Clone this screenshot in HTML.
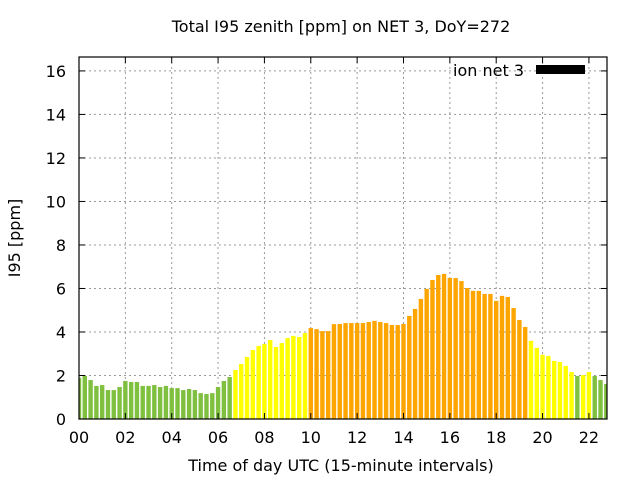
<!DOCTYPE html>
<html><head><meta charset="utf-8"><style>
html,body{margin:0;padding:0;background:#fff;}
svg{display:block;font-family:"DejaVu Sans","Liberation Sans",sans-serif;}
</style></head><body>
<svg id="chart" width="640" height="480" viewBox="0 0 640 480" xmlns="http://www.w3.org/2000/svg">
<rect width="640" height="480" fill="#fff"/>
<text x="341" y="32" font-size="16" text-anchor="middle">Total I95 zenith [ppm] on NET 3, DoY=272</text>
<text transform="translate(20,238) rotate(-90)" font-size="16" text-anchor="middle">I95 [ppm]</text>
<text x="341" y="471" font-size="16" text-anchor="middle">Time of day UTC (15-minute intervals)</text>
<g id="grid"></g>
<g id="bars"></g>
<g id="axes"></g>
<g>
<text x="524" y="76" font-size="16" text-anchor="end">ion net 3</text>
<rect x="536" y="65" width="49" height="9" fill="#000"/>
</g>
</svg>
<script>
const values = [1.90,1.98,1.79,1.52,1.56,1.33,1.33,1.47,1.75,1.70,1.70,1.52,1.52,1.56,1.47,1.52,1.42,1.42,1.33,1.38,1.33,1.19,1.15,1.19,1.47,1.75,1.93,2.25,2.53,2.85,3.17,3.36,3.45,3.63,3.31,3.49,3.72,3.82,3.77,3.95,4.18,4.13,4.04,4.04,4.36,4.37,4.41,4.41,4.41,4.41,4.46,4.51,4.46,4.41,4.32,4.32,4.37,4.74,5.06,5.52,5.98,6.39,6.62,6.67,6.48,6.48,6.34,6.02,5.89,5.89,5.75,5.75,5.43,5.66,5.61,5.10,4.55,4.23,3.59,3.27,2.95,2.90,2.67,2.62,2.44,2.16,1.98,2.02,2.16,1.98,1.79,1.61];
const xTickLabels = ["00","02","04","06","08","10","12","14","16","18","20","22"];
const yTickLabels = ["0","2","4","6","8","10","12","14","16"];
const thresholds = [2,4];
const NS="http://www.w3.org/2000/svg";
const L=79,R=607,T=57,B=419, XMIN=0,XMAX=22.78,YMIN=0,YMAX=16.64;
const xs=h=>L+(h-XMIN)/(XMAX-XMIN)*(R-L);
const ys=v=>B-(v-YMIN)/(YMAX-YMIN)*(B-T);
function mk(tag,attrs,parent){const e=document.createElementNS(NS,tag);for(const k in attrs)e.setAttribute(k,attrs[k]);parent.appendChild(e);return e;}
const grid=document.getElementById('grid'),bars=document.getElementById('bars'),axes=document.getElementById('axes');
xTickLabels.forEach(lbl=>{const h=parseFloat(lbl);const x=xs(h);
 if(h>0){const g=mk('line',{x1:x,x2:x,y1:T,y2:B,stroke:'#999','stroke-dasharray':'2,3','stroke-width':1},grid);
 
 }
 const t1=mk('line',{x1:x,x2:x,y1:B,y2:B-6,stroke:'#000'},axes);
 
 
 const t2=mk('line',{x1:x,x2:x,y1:T,y2:T+6,stroke:'#000'},axes);
 
 
 const tx=mk('text',{x:x,y:443,'font-size':16,'text-anchor':'middle'},axes);tx.textContent=lbl;
 
 
});
yTickLabels.forEach(lbl=>{const v=parseFloat(lbl);const y=ys(v);
 if(v>0){const g=mk('line',{x1:L,x2:R,y1:y,y2:y,stroke:'#999','stroke-dasharray':'2,3','stroke-width':1},grid);
 
 }
 const t1=mk('line',{x1:L,x2:L+6,y1:y,y2:y,stroke:'#000'},axes);
 
 
 const t2=mk('line',{x1:R,x2:R-6,y1:y,y2:y,stroke:'#000'},axes);
 
 
 const tx=mk('text',{x:66,y:y+6,'font-size':16,'text-anchor':'end'},axes);tx.textContent=lbl;
 
 
});
const bw=(0.19)/(XMAX-XMIN)*(R-L);
values.forEach((v,i)=>{const h=i*0.25;const cx=xs(h);
 let x0=Math.max(L,cx-bw/2),x1=Math.min(R,cx+bw/2);
 const col=v<thresholds[0]?'#80c040':(v<thresholds[1]?'#ffff00':'#ffa500');
 const r=mk('rect',{x:x0,y:ys(v),width:Math.max(0,x1-x0),height:B-ys(v),fill:col},bars);
 
 
});
const fr=mk('rect',{x:L,y:T,width:R-L,height:B-T,fill:'none',stroke:'#000','stroke-width':1.2},axes);


</script>
</body></html>
